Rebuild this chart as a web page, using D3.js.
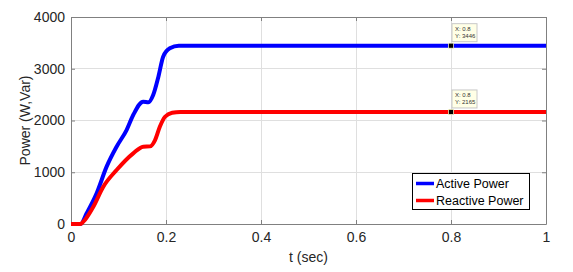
<!DOCTYPE html>
<html><head><meta charset="utf-8">
<script src="https://cdn.jsdelivr.net/npm/d3@7"></script>
<style>body{margin:0;background:#fff}svg{display:block}text{font-family:"Liberation Sans",Arial,sans-serif}</style>
</head><body><svg id="c" width="573" height="272"></svg>
<script>
const activeT = [0,0.02,0.033,0.054,0.075,0.096,0.117,0.131,0.152,0.163,0.173,0.184,0.194,0.208,0.227,0.25,1];
const activeP = [0,0,207,593,1108,1494,1816,2106,2364,2352,2493,2847,3233,3395,3446,3446,3446];
const reactT = [0,0.02,0.026,0.047,0.068,0.096,0.131,0.152,0.166,0.177,0.187,0.198,0.213,0.23,1];
const reactP = [0,0,45,335,721,1043,1366,1494,1500,1623,1880,2073,2150,2165,2165];
const xTicks = [0,0.2,0.4,0.6,0.8,1];
const yTicks = [0,1000,2000,3000,4000];
const seriesNames = ["Active Power","Reactive Power"];
const tips = [{x:0.8,y:3446},{x:0.8,y:2165}];

const svg = d3.select("#c");
const L=71,R=546,T=17,B=224;
const x = d3.scaleLinear().domain([0,1]).range([L,R]);
const y = d3.scaleLinear().domain([0,4000]).range([B,T]);

// grid
svg.append("g").selectAll("line").data(xTicks).join("line")
  .attr("x1",d=>x(d)).attr("x2",d=>x(d)).attr("y1",T).attr("y2",B)
  .attr("stroke","#dfdfdf").attr("stroke-width",1).attr("shape-rendering","crispEdges");
svg.append("g").selectAll("line").data(yTicks).join("line")
  .attr("x1",L).attr("x2",R).attr("y1",d=>y(d)).attr("y2",d=>y(d))
  .attr("stroke","#dfdfdf").attr("stroke-width",1).attr("shape-rendering","crispEdges");

function styleAxis(g){
  g.select(".domain").attr("stroke","#808080");
  g.selectAll(".tick line").attr("stroke","#808080");
  g.selectAll(".tick text").attr("fill","#262626").attr("font-size","14px");
}
svg.append("g").attr("transform",`translate(0,${B})`)
  .call(d3.axisBottom(x).tickValues(xTicks).tickFormat(d3.format("~g")).tickSizeInner(-4).tickSizeOuter(0).tickPadding(8))
  .call(styleAxis);
svg.append("g").attr("transform",`translate(${L},0)`)
  .call(d3.axisLeft(y).tickValues(yTicks).tickFormat(d3.format("d")).tickSizeInner(-4).tickSizeOuter(0).tickPadding(6))
  .call(styleAxis);
svg.append("g").attr("transform",`translate(0,${T})`)
  .call(d3.axisTop(x).tickValues(xTicks).tickFormat("").tickSizeInner(-4).tickSizeOuter(0)).call(styleAxis);
svg.append("g").attr("transform",`translate(${R},0)`)
  .call(d3.axisRight(y).tickValues(yTicks).tickFormat("").tickSizeInner(-4).tickSizeOuter(0)).call(styleAxis);

const line = d3.line().x(d=>x(d[0])).y(d=>y(d[1])).curve(d3.curveMonotoneX);
svg.append("path").datum(activeT.map((t,i)=>[t,activeP[i]])).attr("d",line)
  .attr("fill","none").attr("stroke","#0000ff").attr("stroke-width",4);
svg.append("path").datum(reactT.map((t,i)=>[t,reactP[i]])).attr("d",line)
  .attr("fill","none").attr("stroke","#ff0000").attr("stroke-width",4);

// datatips
tips.forEach(tp=>{
  const px=x(tp.x), py=y(tp.y);
  const g=svg.append("g");
  g.append("rect").attr("x",px+1).attr("y",py-22).attr("width",25).attr("height",18)
    .attr("fill","#ffffe6").attr("stroke","#c8c8c8").attr("stroke-width",1);
  g.append("text").attr("x",px+4).attr("y",py-15).attr("font-size","6px").attr("fill","#333").text("X: "+tp.x);
  g.append("text").attr("x",px+4).attr("y",py-8).attr("font-size","6px").attr("fill","#333").text("Y: "+tp.y);
  g.append("rect").attr("x",px-2.5).attr("y",py-2.5).attr("width",5).attr("height",5)
    .attr("fill","#000").attr("stroke","#ffffcc").attr("stroke-width",0.7);
});

// legend
const lg=svg.append("g");
lg.append("rect").attr("x",412.5).attr("y",173.5).attr("width",117).attr("height",36)
  .attr("fill","#fff").attr("stroke","#000").attr("stroke-width",1);
const colors=["#0000ff","#ff0000"];
seriesNames.forEach((n,i)=>{
  const yy=183.5+i*17;
  lg.append("line").attr("x1",416).attr("x2",434).attr("y1",yy).attr("y2",yy).attr("stroke",colors[i]).attr("stroke-width",3.5);
  lg.append("text").attr("x",436).attr("y",yy+4.5).attr("font-size","12.5px").attr("fill","#000").text(n);
});

svg.append("text").attr("x",(L+R)/2).attr("y",262).attr("text-anchor","middle")
  .attr("font-size","14px").attr("fill","#262626").text("t (sec)");
svg.append("text").attr("transform",`translate(30,${(T+B)/2}) rotate(-90)`).attr("text-anchor","middle")
  .attr("font-size","14px").attr("fill","#262626").text("Power (W,Var)");
</script></body></html>
